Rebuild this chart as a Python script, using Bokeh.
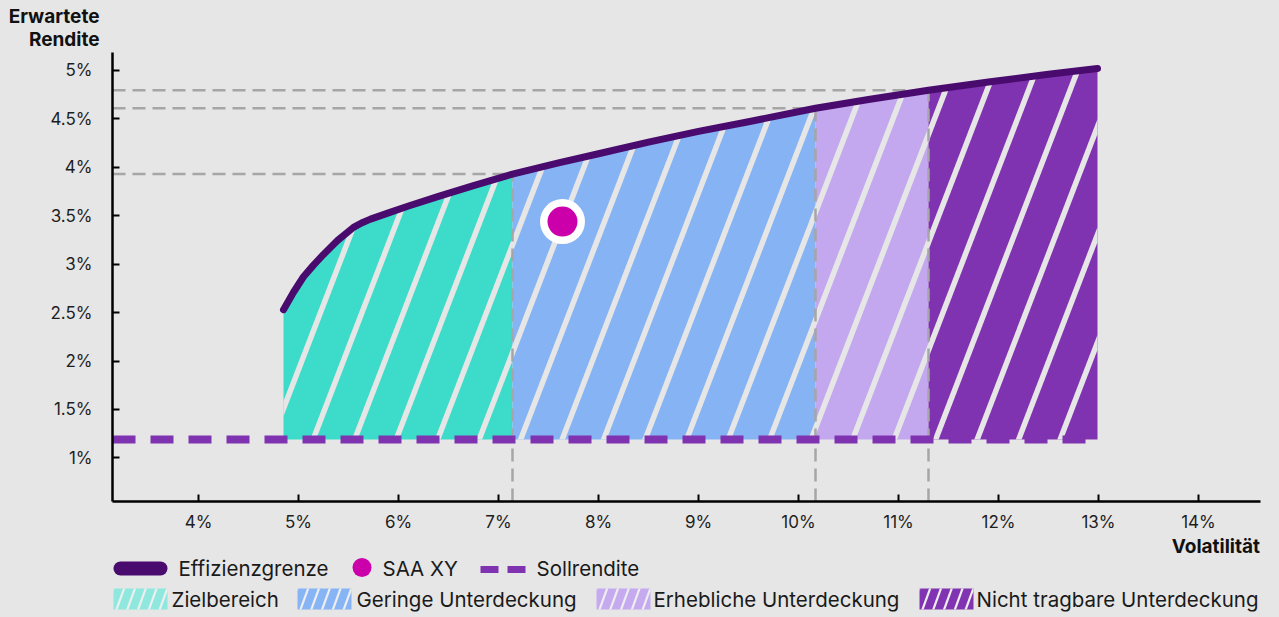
import math
from bokeh.plotting import figure
from bokeh.models import Range1d, FixedTicker, Title
from bokeh.layouts import column
from bokeh.embed import file_html
from bokeh.resources import INLINE
from bokeh.core.properties import value

# ---------------- data ----------------
frontier_vol = [4.85, 4.95, 5.05, 5.15, 5.25, 5.39, 5.55, 5.63, 5.72, 5.9, 6.1, 6.4, 6.75, 7.14,
                7.6, 8.0, 8.5, 9.0, 9.5, 10.17, 10.7, 11.3, 11.9, 12.5, 12.99]
frontier_ret = [2.53, 2.71, 2.87, 2.99, 3.10, 3.245, 3.38, 3.425, 3.465, 3.53, 3.60, 3.70, 3.81,
                3.93, 4.045, 4.14, 4.26, 4.37, 4.47, 4.61, 4.70, 4.795, 4.88, 4.96, 5.02]
zone_bounds = [4.85, 7.14, 10.17, 11.3, 12.99]
zone_names = ["Zielbereich", "Geringe Unterdeckung", "Erhebliche Unterdeckung",
              "Nicht tragbare Unterdeckung"]
guide_vol = [7.14, 10.17, 11.3]
guide_ret = [3.93, 4.61, 4.795]
target_return = 1.19
saa_vol = [7.64]
saa_ret = [3.44]
x_ticks = [4, 5, 6, 7, 8, 9, 10, 11, 12, 13, 14]
x_tick_labels = ["4%", "5%", "6%", "7%", "8%", "9%", "10%", "11%", "12%", "13%", "14%"]
y_ticks = [1, 1.5, 2, 2.5, 3, 3.5, 4, 4.5, 5]
y_tick_labels = ["1%", "1.5%", "2%", "2.5%", "3%", "3.5%", "4%", "4.5%", "5%"]

# ---------------- style ----------------
BG = "#e6e6e6"
FONT = "Inter"
zone_colors = ["#3ddbc9", "#85b3f4", "#c3a8ef", "#7f33b0"]
swatch_colors = ["#8ee8de", "#87b4f5", "#c5aaf0", "#8034b1"]
FRONTIER_COLOR = "#4a0b6e"
SOLL_COLOR = "#7f33b0"
DOT_COLOR = "#cc00aa"
GUIDE_COLOR = "#a6a6a6"

X0, X1 = 3.14, 14.62
Y0, Y1 = 0.55, 5.185
W, H_MAIN = 1279, 534
H_LEG = 617 - H_MAIN
ML, MR, MT, MB = 112, 19, 52, H_MAIN - 502
FW, FH = W - ML - MR, H_MAIN - MT - MB
SX = FW / (X1 - X0)
SY = FH / (Y1 - Y0)


def to_px(x, y):
    return ((x - X0) * SX, (y - Y0) * SY)


def to_data(X, Y):
    return (X / SX + X0, Y / SY + Y0)


def clip_poly(subject, clipper):
    out = list(subject)
    n = len(clipper)
    for i in range(n):
        a = clipper[i]
        b = clipper[(i + 1) % n]
        inp = out
        out = []
        if not inp:
            break

        def inside(p):
            return (b[0] - a[0]) * (p[1] - a[1]) - (b[1] - a[1]) * (p[0] - a[0]) >= 0

        def inter(p, q):
            x1, y1 = p
            x2, y2 = q
            x3, y3 = a
            x4, y4 = b
            den = (x1 - x2) * (y3 - y4) - (y1 - y2) * (x3 - x4)
            t = ((x1 - x3) * (y3 - y4) - (y1 - y3) * (x3 - x4)) / den
            return (x1 + t * (x2 - x1), y1 + t * (y2 - y1))

        for j in range(len(inp)):
            cur = inp[j]
            prev = inp[j - 1]
            if inside(cur):
                if not inside(prev):
                    out.append(inter(prev, cur))
                out.append(cur)
            elif inside(prev):
                out.append(inter(prev, cur))
    return out


def stripes(clipper, c0, period, width, theta_deg, ymin, ymax, xmin, xmax):
    t = math.tan(math.radians(theta_deg))
    hw = (width / 2) / math.sin(math.radians(theta_deg))
    res = []
    k0 = math.floor((xmin - ymax / t - c0) / period) - 1
    k1 = math.ceil((xmax - ymin / t - c0) / period) + 1
    for k in range(k0, k1 + 1):
        c = c0 + k * period
        para = [(c - hw + ymin / t, ymin), (c + hw + ymin / t, ymin),
                (c + hw + ymax / t, ymax), (c - hw + ymax / t, ymax)]
        poly = clip_poly(para, clipper)
        if len(poly) >= 3:
            res.append(poly)
    return res


# ---------------- main figure ----------------
p = figure(width=W, height=H_MAIN, x_range=Range1d(X0, X1), y_range=Range1d(Y0, Y1),
           toolbar_location=None, output_backend="svg",
           min_border_left=ML, min_border_right=MR, min_border_top=MT, min_border_bottom=MB,
           background_fill_color=BG, border_fill_color=BG, outline_line_color=None,
           styles={"background-color": BG})
p.grid.visible = False

# zone fills
for i in range(4):
    a, b = zone_bounds[i], zone_bounds[i + 1]
    xs = [v for v in frontier_vol if a <= v <= b]
    ys = [r for v, r in zip(frontier_vol, frontier_ret) if a <= v <= b]
    p.varea(x=xs, y1=[target_return] * len(xs), y2=ys, fill_color=zone_colors[i])

# hatch stripes (background colour), clipped to the region under the frontier
region = [to_px(zone_bounds[0], target_return), to_px(zone_bounds[-1], target_return)]
for v, r in reversed(list(zip(frontier_vol, frontier_ret))):
    region.append(to_px(v, r))
ymin_px = to_px(0, target_return)[1] - 2
ymax_px = to_px(0, max(frontier_ret))[1] + 2
xs_min = to_px(zone_bounds[0], 0)[0]
xs_max = to_px(zone_bounds[-1], 0)[0]
polys = stripes(region, 135.3, 41.5, 5.5, 69, ymin_px, ymax_px, xs_min, xs_max)
sx_list, sy_list = [], []
for poly in polys:
    pts = [to_data(X, Y) for X, Y in poly]
    sx_list.append([q[0] for q in pts])
    sy_list.append([q[1] for q in pts])
p.patches(sx_list, sy_list, fill_color=BG, line_color=None)

# dashed guides
for gv, gr in zip(guide_vol, guide_ret):
    p.line([X0, gv], [gr, gr], line_color=GUIDE_COLOR, line_width=2.5, line_dash="13 7")
    p.line([gv, gv], [Y0, gr], line_color=GUIDE_COLOR, line_width=2.5, line_dash="13 7")

# target return
p.line([X0, zone_bounds[-1]], [target_return, target_return], line_color=SOLL_COLOR,
       line_width=8, line_dash="23 15")

# efficient frontier
p.line(frontier_vol, frontier_ret, line_color=FRONTIER_COLOR, line_width=7,
       line_cap="round", line_join="round")

# SAA point
p.scatter(saa_vol, saa_ret, size=37.5, fill_color=DOT_COLOR, line_color="white", line_width=7.5)

# axes
for ax in (p.xaxis[0], p.yaxis[0]):
    ax.axis_line_color = "black"
    ax.axis_line_width = 2.5
    ax.major_tick_line_color = "black"
    ax.major_tick_line_width = 2
    ax.major_tick_in = 7
    ax.major_tick_out = 0
    ax.minor_tick_line_color = None
    ax.major_label_text_font = FONT
    ax.major_label_text_font_size = "17px"
    ax.major_label_text_color = "#1e1e1e"
p.xaxis[0].ticker = FixedTicker(ticks=x_ticks)
p.xaxis[0].major_label_overrides = {t: l for t, l in zip(x_ticks, x_tick_labels)}
p.xaxis[0].major_label_standoff = 10
p.yaxis[0].ticker = FixedTicker(ticks=y_ticks)
p.yaxis[0].major_label_overrides = {t: l for t, l in zip(y_ticks, y_tick_labels)}
p.yaxis[0].major_label_standoff = 20

# y axis title (two lines, right-aligned left of the axis)
ttl = dict(text_font=FONT, text_font_style="bold", text_font_size="19px",
           text_color="#111111", align="right", offset=FW - 99 + ML, standoff=0)
p.add_layout(Title(text="Rendite", vertical_align="top", **ttl), "above")
p.add_layout(Title(text="Erwartete", vertical_align="bottom", **ttl), "above")

# ---------------- legend figure ----------------
OFF = H_MAIN
lg = figure(width=W, height=H_LEG, x_range=Range1d(ML, W - MR), y_range=Range1d(H_LEG, 0),
            toolbar_location=None, output_backend="svg",
            min_border_left=ML, min_border_right=MR, min_border_top=0, min_border_bottom=0,
            x_axis_location=None, y_axis_location=None,
            background_fill_color=BG, border_fill_color=BG, outline_line_color=None,
            styles={"background-color": BG})
lg.grid.visible = False

lg.text(x=[W - MR - 0.5], y=[545.5 - OFF], text=["Volatilität"], text_font=value(FONT),
        text_font_style="bold", text_font_size="19px", text_color="#111111",
        text_align="right", text_baseline="middle")

r1, r2 = 568 - OFF, 599 - OFF
txt = dict(text_font=value(FONT), text_font_size="20.5px", text_color="#1a1a1a",
           text_baseline="middle", text_align="left")

lg.line([120, 160], [r1, r1], line_color=FRONTIER_COLOR, line_width=14, line_cap="round")
lg.text(x=[178], y=[r1], text=["Effizienzgrenze"], **txt)
lg.scatter([361.5], [r1 - 1], size=19, fill_color=DOT_COLOR, line_color=None)
lg.text(x=[382], y=[r1], text=["SAA XY"], **txt)
lg.line([480, 525], [r1 + 1, r1 + 1], line_color=SOLL_COLOR, line_width=7, line_dash="18 9")
lg.text(x=[536], y=[r1], text=["Sollrendite"], **txt)

sw_x = [113, 297, 596, 919]
tx_x = [171, 356, 653, 976]
for i in range(4):
    x0, x1 = sw_x[i], sw_x[i] + 54
    y0, y1 = 588 - OFF, 609 - OFF
    lg.quad(left=[x0], right=[x1], top=[y0], bottom=[y1], fill_color=swatch_colors[i],
            line_color=None)
    rect = [(x0, 0), (x1, 0), (x1, y1 - y0), (x0, y1 - y0)]
    sp = stripes(rect, x0 + 3, 10.8, 2.2, 70, -1, y1 - y0 + 1, x0, x1)
    lg.patches([[q[0] for q in s] for s in sp], [[y1 - q[1] for q in s] for s in sp],
               fill_color="#eeeeee", line_color=None)
    lg.text(x=[tx_x[i]], y=[r2], text=[zone_names[i]], **txt)

layout = column(p, lg, styles={"background-color": BG})
open("out.html", "w").write(file_html(layout, INLINE))
